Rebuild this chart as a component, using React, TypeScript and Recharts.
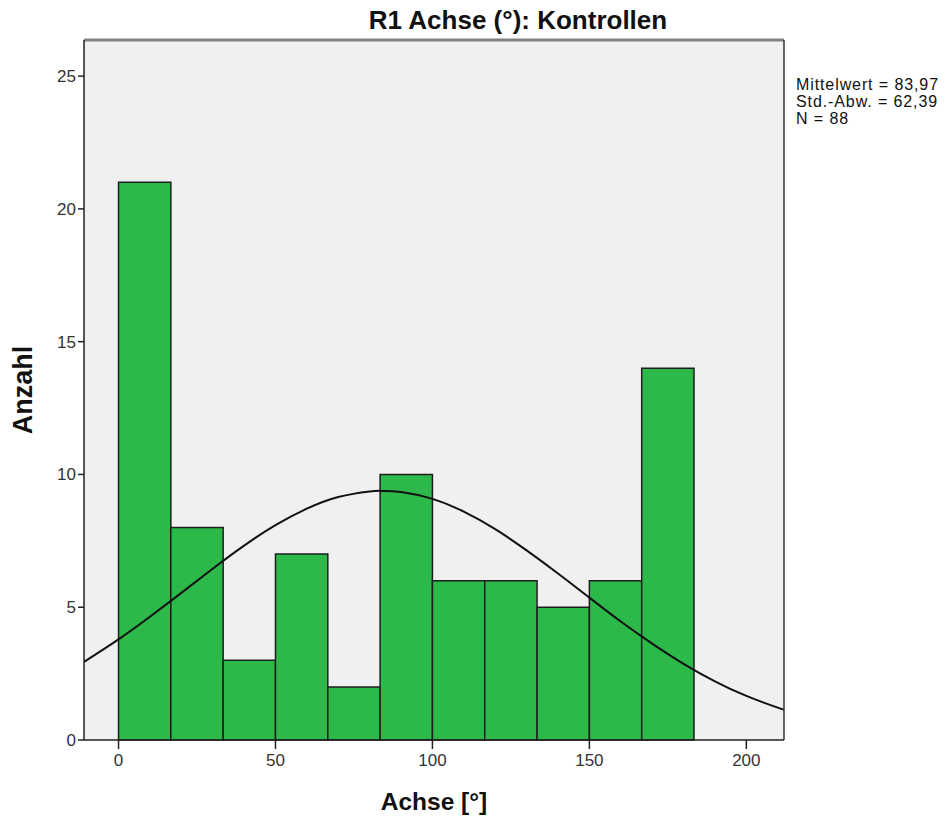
import { ComposedChart, Line, XAxis, YAxis, CartesianGrid, ReferenceArea, ReferenceLine } from 'recharts';

// histogram bins (lower edge, upper edge) and counts
const binStarts = [0, 16.67, 33.33, 50, 66.67, 83.33, 100, 116.67, 133.33, 150, 166.67];
const binEnds = [16.67, 33.33, 50, 66.67, 83.33, 100, 116.67, 133.33, 150, 166.67, 183.33];
const counts = [21, 8, 3, 7, 2, 10, 6, 6, 5, 6, 14];

// fitted normal curve, sampled along the x axis
const curveX = [-11, -10, 0, 10, 20, 30, 40, 50, 60, 70, 80, 84, 90, 100, 110, 120, 130, 140, 150, 160, 170, 180, 190, 200, 210, 212];
const curveY = [2.94, 3.02, 3.79, 4.64, 5.54, 6.45, 7.32, 8.09, 8.71, 9.15, 9.36, 9.38, 9.34, 9.08, 8.6, 7.94, 7.14, 6.27, 5.36, 4.46, 3.63, 2.87, 2.21, 1.66, 1.22, 1.15];

const xTicks = [0, 50, 100, 150, 200];
const yTicks = [0, 5, 10, 15, 20, 25];
const statLines = ['Mittelwert = 83,97', 'Std.-Abw. = 62,39', 'N = 88'];

const curve = curveX.map((x, i) => ({ x, y: curveY[i] }));

const font = '"Liberation Sans", Arial, sans-serif';
const tick = { fill: '#333', fontSize: 17, fontFamily: font };

export default function App() {
  return (
    <div style={{ position: 'absolute', left: 0, top: 0, width: 949, height: 816, background: '#fff', fontFamily: font }}>
      <ComposedChart width={949} height={816} data={curve} margin={{ top: 40, right: 165, bottom: 0, left: 0 }}>
        <CartesianGrid fill="#f0f0f0" horizontal={false} vertical={false} />
        <XAxis type="number" dataKey="x" domain={[-11, 212]} ticks={xTicks} allowDataOverflow
          height={76} tick={tick} tickSize={9} tickMargin={5} stroke="#222" strokeWidth={1.5} />
        <YAxis type="number" domain={[0, 26.36]} ticks={yTicks} allowDataOverflow
          width={84} tick={tick} tickSize={6} tickMargin={2} stroke="#222" strokeWidth={1.5} />
        {counts.map((c, i) => (
          <ReferenceArea key={i} x1={binStarts[i]} x2={binEnds[i]} y1={0} y2={c}
            fill="#2db84a" fillOpacity={1} stroke="#1e1e1e" strokeWidth={1.5} ifOverflow="extendDomain" />
        ))}
        <ReferenceLine y={26.36} stroke="#808080" strokeWidth={3} />
        <ReferenceLine x={212} stroke="#333" strokeWidth={1.5} />
        <Line type="natural" dataKey="y" stroke="#111" strokeWidth={2} dot={false} isAnimationActive={false} />
      </ComposedChart>

      <div style={{ position: 'absolute', left: 518, top: 20, transform: 'translate(-50%, -50%)', fontSize: 26, fontWeight: 'bold', color: '#111', whiteSpace: 'nowrap' }}>
        R1 Achse (°): Kontrollen
      </div>
      <div style={{ position: 'absolute', left: 796, top: 76, fontSize: 16, lineHeight: '17px', letterSpacing: 0.9, color: '#111', whiteSpace: 'nowrap' }}>
        {statLines.map((s) => <div key={s}>{s}</div>)}
      </div>
      <div style={{ position: 'absolute', left: 23, top: 390, transform: 'translate(-50%, -50%) rotate(-90deg)', fontSize: 27, fontWeight: 'bold', color: '#111', whiteSpace: 'nowrap' }}>
        Anzahl
      </div>
      <div style={{ position: 'absolute', left: 434, top: 802, transform: 'translate(-50%, -50%)', fontSize: 24.5, fontWeight: 'bold', color: '#111', whiteSpace: 'nowrap' }}>
        Achse [°]
      </div>
    </div>
  );
}
